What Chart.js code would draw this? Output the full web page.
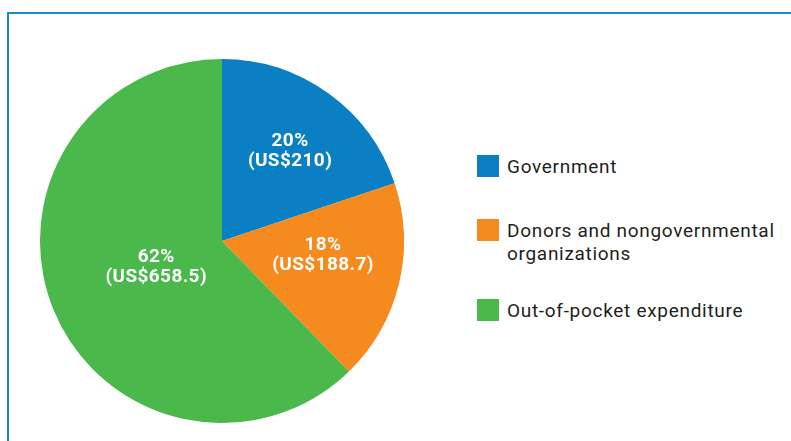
<!DOCTYPE html>
<html>
<head>
<meta charset="utf-8">
<script src="https://cdn.jsdelivr.net/npm/chart.js@4.4.0/dist/chart.umd.min.js"></script>
<style>
  html, body { margin:0; padding:0; background:#fff; }
  body { width:791px; height:441px; position:relative; overflow:hidden; font-family:Roboto, "Noto Sans", sans-serif; }
  .frame { position:absolute; left:7px; top:12px; width:800px; height:440px; border-top:2px solid #1c86d0; border-left:2px solid #1c86d0; }
  .pie { position:absolute; left:40px; top:59px; width:364px; height:364px; }
  .legend { position:absolute; left:477px; top:155px; }
  .item { position:relative; padding-left:30px; font-size:19px; line-height:23px; color:#231f20; letter-spacing:0.7px; }
  .item .box { position:absolute; left:0; top:0; width:22px; height:22px; }
</style>
</head>
<body>
<div class="frame"></div>
<div class="pie"><canvas id="pieChart"></canvas></div>
<div class="legend" id="legend"></div>
<script>
// data
const categories = ['Government', 'Donors and nongovernmental organizations', 'Out-of-pocket expenditure'];
const legendLines = [['Government'], ['Donors and nongovernmental', 'organizations'], ['Out-of-pocket expenditure']];
const spending = [210, 188.7, 658.5];
const shareLabels = ['20%', '18%', '62%'];
const amountLabels = ['(US$210)', '(US$188.7)', '(US$658.5)'];
const colors = ['#0a7fc3', '#f58a1f', '#4ab84b'];

// html legend
const legend = document.getElementById('legend');
const legendTops = [0, 64, 144];
legendLines.forEach((lines, i) => {
  const el = document.createElement('div');
  el.className = 'item';
  el.style.position = 'absolute';
  el.style.top = legendTops[i] + 'px';
  el.style.whiteSpace = 'nowrap';
  el.innerHTML = '<span class="box" style="background:' + colors[i] + '"></span>' + lines.join('<br>');
  legend.appendChild(el);
});

// slice labels: radius fraction, angle shift and vertical nudge per slice
const labelPos = [{r:0.64, da:0, dy:5}, {r:0.56, da:-6, dy:1}, {r:0.385, da:2, dy:2}];
const sliceLabels = {
  id: 'sliceLabels',
  afterDatasetsDraw(chart) {
    const ctx = chart.ctx;
    const arcs = chart.getDatasetMeta(0).data;
    ctx.save();
    ctx.fillStyle = '#fff';
    ctx.font = 'bold 19px Roboto, sans-serif';
    ctx.letterSpacing = '0.4px';
    ctx.textAlign = 'center';
    ctx.textBaseline = 'middle';
    arcs.forEach((arc, i) => {
      const p = arc.getProps(['x', 'y', 'startAngle', 'endAngle', 'outerRadius'], true);
      const a = (p.startAngle + p.endAngle) / 2 + labelPos[i].da * Math.PI / 180;
      const r = p.outerRadius * labelPos[i].r;
      const cx = p.x + Math.cos(a) * r;
      const cy = p.y + Math.sin(a) * r + labelPos[i].dy;
      ctx.fillText(shareLabels[i], cx, cy - 10);
      ctx.fillText(amountLabels[i], cx, cy + 10);
    });
    ctx.restore();
  }
};

new Chart(document.getElementById('pieChart'), {
  type: 'pie',
  data: {
    labels: categories,
    datasets: [{ data: spending, backgroundColor: colors, borderWidth: 0 }]
  },
  options: {
    responsive: true,
    maintainAspectRatio: false,
    animation: false,
    layout: { padding: 0 },
    plugins: { legend: { display: false }, tooltip: { enabled: false } }
  },
  plugins: [sliceLabels]
});
</script>
</body>
</html>
